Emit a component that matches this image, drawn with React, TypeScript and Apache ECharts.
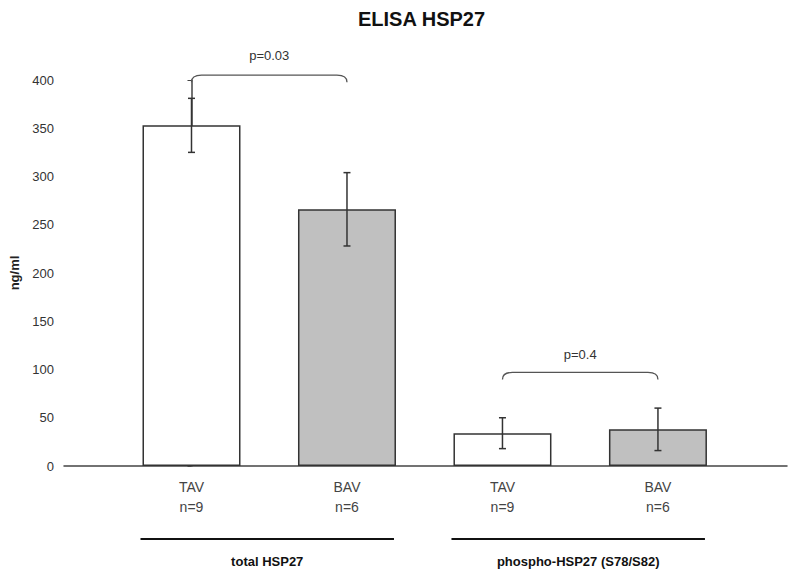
import React, { useEffect, useRef } from "react";
import * as echarts from "echarts";

const titleText = "ELISA HSP27";
const yAxisName = "ng/ml";
const categories = ["TAV\nn=9", "BAV\nn=6", "TAV\nn=9", "BAV\nn=6"];
const means = [353, 266, 34, 38];
const errors = [28, 38, 16, 22];
const barColors = ["#ffffff", "#c0c0c0", "#ffffff", "#c0c0c0"];
const groupNames = ["total HSP27", "phospho-HSP27 (S78/S82)"];
const groupFirst = [0, 2];
const groupLast = [1, 3];
const pLabels = ["p=0.03", "p=0.4"];
const bracketLevels = [405, 97];
const pTextLevels = [425, 116];
const yMin = 0;
const yMax = 400;
const yInterval = 50;

const FONT = "'Liberation Sans', Arial, sans-serif";

export default function App() {
  const ref = useRef<HTMLDivElement>(null);
  useEffect(() => {
    if (!ref.current) return;
    const chart = echarts.init(ref.current, null, { renderer: "svg" });
    const stroke = "#333";

    const errorData = means.map((m, i) => [i, m - errors[i], m + errors[i]]);
    const bracketData = pLabels.map((_, k) => [
      groupFirst[k],
      bracketLevels[k],
      groupLast[k],
      pTextLevels[k],
    ]);
    const groupData = groupNames.map((_, k) => [groupFirst[k], 0, groupLast[k]]);

    chart.setOption({
      animation: false,
      backgroundColor: "#ffffff",
      textStyle: { fontFamily: FONT },
      title: {
        text: titleText,
        left: 353,
        top: 4,
        textStyle: { fontFamily: FONT, fontSize: 20, fontWeight: "bold", color: "#111" },
      },
      grid: { left: 64, right: 13, top: 80, bottom: 112, containLabel: false },
      xAxis: {
        type: "value",
        min: -0.82,
        max: 3.83,
        splitLine: { show: false },
        axisTick: { show: false },
        axisLine: { show: true, onZero: false, lineStyle: { color: "#444", width: 1.5 } },
        axisLabel: {
          customValues: [0, 1, 2, 3],
          formatter: (v: number) => categories[Math.round(v)] ?? "",
          fontSize: 14,
          lineHeight: 20,
          color: "#444",
          margin: 11,
          fontFamily: FONT,
        },
      },
      yAxis: {
        type: "value",
        min: yMin,
        max: yMax,
        interval: yInterval,
        name: yAxisName,
        nameLocation: "middle",
        nameGap: 43,
        nameTextStyle: { fontSize: 13, fontWeight: "bold", color: "#222", fontFamily: FONT },
        splitLine: { show: false },
        axisLine: { show: true, lineStyle: { color: "#444", width: 1.5 } },
        axisTick: { show: true, length: 4, lineStyle: { color: "#444" } },
        axisLabel: { fontSize: 13, color: "#333", margin: 10, fontFamily: FONT },
      },
      series: [
        {
          type: "bar",
          barWidth: 98,
          z: 2,
          data: means.map((m, i) => ({
            value: [i, m],
            itemStyle: { color: barColors[i], borderColor: stroke, borderWidth: 1.5 },
          })),
        },
        {
          type: "custom",
          clip: false,
          z: 10,
          data: errorData,
          encode: { x: 0, y: [1, 2] },
          renderItem: (params: any, api: any) => {
            const lo = api.coord([api.value(0), api.value(1)]);
            const hi = api.coord([api.value(0), api.value(2)]);
            const x = lo[0];
            const hw = 3.5;
            const st = { stroke: stroke, lineWidth: 1.5 };
            return {
              type: "group",
              children: [
                { type: "line", shape: { x1: x, y1: hi[1], x2: x, y2: lo[1] }, style: st },
                { type: "line", shape: { x1: x - hw, y1: hi[1], x2: x + hw, y2: hi[1] }, style: st },
                { type: "line", shape: { x1: x - hw, y1: lo[1], x2: x + hw, y2: lo[1] }, style: st },
              ],
            };
          },
        },
        {
          type: "custom",
          clip: false,
          z: 10,
          data: bracketData,
          encode: { x: [0, 2], y: [1, 3] },
          renderItem: (params: any, api: any) => {
            const a = api.coord([api.value(0), api.value(1)]);
            const b = api.coord([api.value(2), api.value(1)]);
            const t = api.coord([api.value(0), api.value(3)]);
            const x1 = a[0];
            const x2 = b[0];
            const y = a[1];
            const r = 7;
            const d = `M${x1} ${y + r} Q${x1} ${y} ${x1 + r + 3} ${y} L${x2 - r - 3} ${y} Q${x2} ${y} ${x2} ${y + r}`;
            return {
              type: "group",
              children: [
                {
                  type: "path",
                  shape: { pathData: d },
                  style: { stroke: "#555", lineWidth: 1.3, fill: "none" },
                },
                {
                  type: "text",
                  style: {
                    text: pLabels[params.dataIndex],
                    x: (x1 + x2) / 2,
                    y: t[1],
                    align: "center",
                    verticalAlign: "middle",
                    fill: "#333",
                    font: `13px ${FONT}`,
                  },
                },
              ],
            };
          },
        },
        {
          type: "custom",
          clip: false,
          z: 10,
          data: groupData,
          encode: { x: [0, 2], y: 1 },
          renderItem: (params: any, api: any) => {
            const a = api.coord([api.value(0), api.value(1)]);
            const b = api.coord([api.value(2), api.value(1)]);
            const x1 = a[0] - 51;
            const x2 = b[0] + 47;
            const y0 = a[1];
            return {
              type: "group",
              children: [
                {
                  type: "line",
                  shape: { x1: x1, y1: y0 + 73, x2: x2, y2: y0 + 73 },
                  style: { stroke: "#111", lineWidth: 2 },
                },
                {
                  type: "text",
                  style: {
                    text: groupNames[params.dataIndex],
                    x: (x1 + x2) / 2,
                    y: y0 + 95,
                    align: "center",
                    verticalAlign: "middle",
                    fill: "#111",
                    font: `bold 13px ${FONT}`,
                  },
                },
              ],
            };
          },
        },
      ],
    });
    return () => chart.dispose();
  }, []);
  return <div ref={ref} style={{ width: 800, height: 578, position: "absolute", left: 0, top: 0 }} />;
}
